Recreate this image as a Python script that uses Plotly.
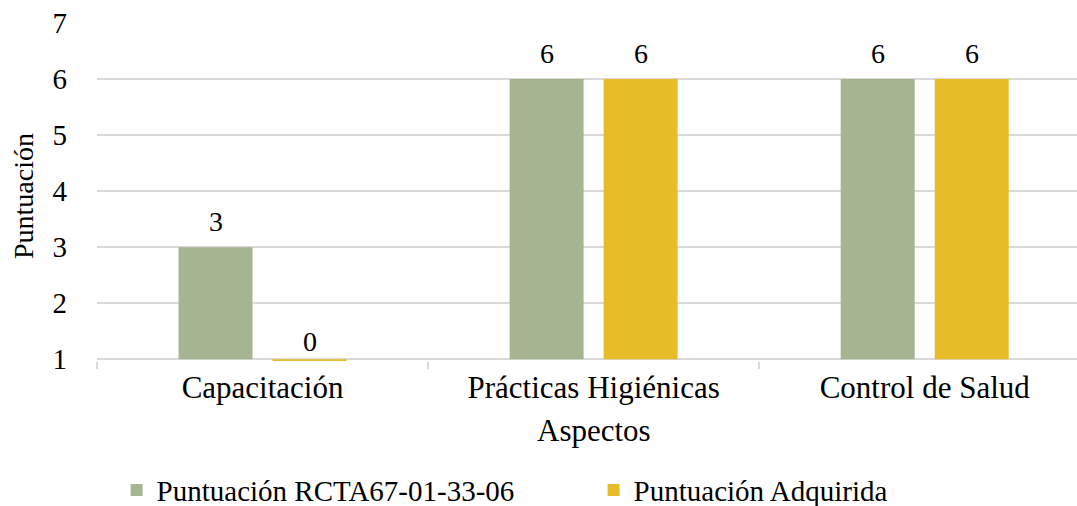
import plotly.graph_objects as go

# Data
aspectos = ["Capacitación", "Prácticas Higiénicas", "Control de Salud"]
puntuacion_rcta = [3, 6, 6]
puntuacion_adquirida = [0, 6, 6]
series_names = ["Puntuación RCTA67-01-33-06", "Puntuación Adquirida"]
y_ticks = [1, 2, 3, 4, 5, 6, 7]

GREEN = "#A5B592"
GOLD = "#E7BC29"
GRID = "#D9D9D9"
FONT = "Liberation Serif"

# value axis starts at 1; bars grow from where the category axis crosses
Y_MIN = y_ticks[0]
Y_MAX = y_ticks[-1]

fig = go.Figure()
for name, vals, color in [
    (series_names[0], puntuacion_rcta, GREEN),
    (series_names[1], puntuacion_adquirida, GOLD),
]:
    fig.add_trace(go.Bar(
        name=name,
        x=aspectos,
        y=[v - Y_MIN for v in vals],
        base=Y_MIN,
        marker=dict(color=color, line=dict(width=0)),
        hoverinfo="skip",
    ))

# value labels above each bar
BAR_OFFSET_PX = 47
for offset, vals in [(-BAR_OFFSET_PX, puntuacion_rcta), (BAR_OFFSET_PX, puntuacion_adquirida)]:
    for cat, v in zip(aspectos, vals):
        fig.add_annotation(
            x=cat, y=max(v, Y_MIN), xref="x", yref="y",
            text=str(v), showarrow=False,
            xanchor="center", yanchor="bottom",
            xshift=offset, yshift=8 if v >= Y_MIN else 0,
            font=dict(family=FONT, size=28, color="#000000"),
        )

# axis titles
fig.add_annotation(
    x=0, y=0.5, xref="paper", yref="paper",
    text="Puntuación", textangle=-90, showarrow=False,
    xanchor="center", yanchor="middle", xshift=-74, yshift=-4,
    font=dict(family=FONT, size=28, color="#000000"),
)
fig.add_annotation(
    x=aspectos[1], y=0, xref="x", yref="paper",
    text="Aspectos", showarrow=False,
    xanchor="center", yanchor="middle", yshift=-69,
    font=dict(family=FONT, size=31, color="#000000"),
)

fig.update_layout(
    width=1077, height=506,
    margin=dict(l=97, r=0, t=23, b=145, autoexpand=False),
    paper_bgcolor="white", plot_bgcolor="white",
    barmode="group", bargap=0.432, bargroupgap=0.213,
    font=dict(family=FONT, color="#000000"),
    showlegend=True,
    legend=dict(
        orientation="h", x=0.02, xanchor="left",
        y=-0.382, yanchor="middle",
        entrywidth=432, entrywidthmode="pixels",
        font=dict(family=FONT, size=29, color="#000000"),
        bgcolor="rgba(0,0,0,0)",
    ),
)
fig.update_xaxes(
    type="category",
    range=[-0.5, 2.46],
    showline=False, showgrid=False, zeroline=False,
    ticks="outside", tickson="boundaries", ticklen=7, tickwidth=2, tickcolor=GRID,
    tickfont=dict(family=FONT, size=31, color="#000000"),
    ticklabelstandoff=5,
)
fig.update_yaxes(
    range=[Y_MIN - 0.03, Y_MAX],
    tickvals=y_ticks,
    showline=False, zeroline=False,
    showgrid=True, gridcolor=GRID, gridwidth=1.5,
    ticks="",
    tickfont=dict(family=FONT, size=29, color="#000000"),
    ticklabelstandoff=29,
)

fig.write_html("out.html")
